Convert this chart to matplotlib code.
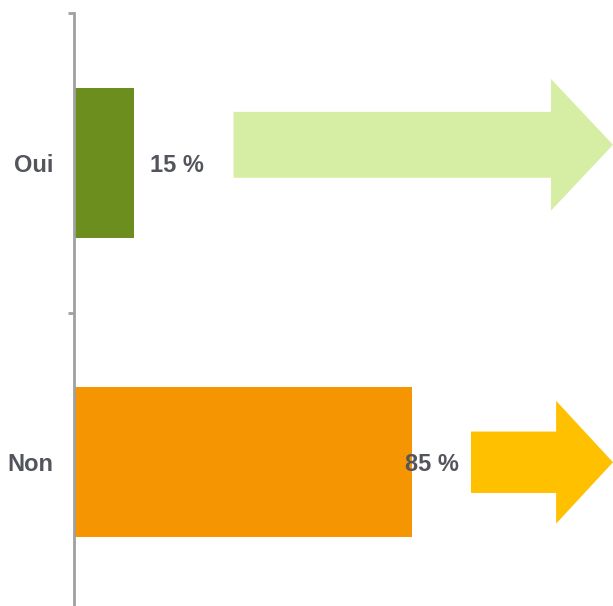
import numpy as np
import matplotlib.pyplot as plt
from matplotlib.patches import FancyArrow

#%%------------------------ DATA ----------------------------------------------
categories = ['Oui', 'Non']
values = [15, 85]

#%%------------------------ STYLE ---------------------------------------------
bar_colors = ['#6B8E1E', '#F59502']
arrow_colors = ['#D6EDA4', '#FFC000']
text_color = '#53555C'
axis_color = '#A0A0A0'

plt.rcParams['font.family'] = ['Liberation Sans', 'DejaVu Sans']

fig = plt.figure(figsize=(6.13, 6.06), dpi=100)
ax = fig.add_axes([74 / 613, -6 / 606, 1 - 74 / 613, (606 - 13 + 6) / 606])

ypos = np.arange(len(categories))[::-1]   # Oui on top
ax.barh(ypos, values, height=0.5, color=bar_colors, zorder=2)

ax.set_xlim(0, 135.5)
ax.set_ylim(-0.5, len(categories) - 0.5)

# value labels
label_offsets = [11, 5]
for y, v, off in zip(ypos, values, label_offsets):
    ax.text(v + off, y, f'{v} %', ha='center', va='center_baseline', fontsize=17,
            fontweight='bold', color=text_color, zorder=3)

# decorative arrows pointing right
arrow_start = [40.1, 99.8]
arrow_dy = [0.06, 0.0]
shaft_w = [0.22, 0.205]
head_w = [0.44, 0.41]
head_l = [15.6, 14.3]
x_end = ax.get_xlim()[1]
for i, y in enumerate(ypos):
    arr = FancyArrow(arrow_start[i], y + arrow_dy[i], x_end - arrow_start[i], 0,
                     width=shaft_w[i], head_width=head_w[i], head_length=head_l[i],
                     length_includes_head=True, color=arrow_colors[i],
                     linewidth=0, clip_on=False, zorder=1)
    ax.add_patch(arr)

# axes styling
for s in ['top', 'right', 'bottom']:
    ax.spines[s].set_visible(False)
ax.spines['left'].set_color(axis_color)
ax.spines['left'].set_linewidth(2)
ax.set_xticks([])
ax.set_yticks(ypos)
ax.set_yticklabels(categories, fontsize=17, fontweight='bold', color=text_color)
ax.tick_params(axis='y', which='major', length=0, pad=15)
ax.set_yticks(np.arange(-0.5, len(categories)), minor=True)
ax.tick_params(axis='y', which='minor', length=4, width=2, color=axis_color)

fig.savefig('out.png', dpi=100)
